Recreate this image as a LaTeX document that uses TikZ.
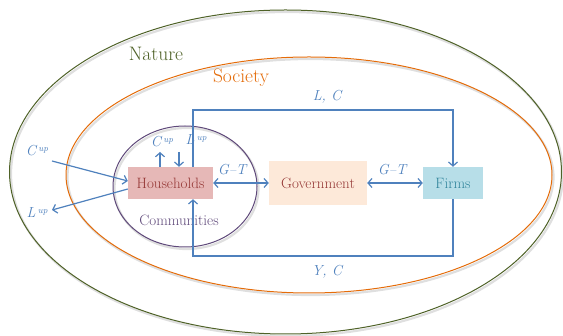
\documentclass[tikz,border=0pt]{standalone}
\usetikzlibrary{arrows.meta,calc}
\definecolor{natgreen}{HTML}{4F6228}
\definecolor{socorange}{HTML}{E46C0A}
\definecolor{compurple}{HTML}{5F497A}
\definecolor{flowblue}{HTML}{4F81BD}
\definecolor{hhfill}{HTML}{E6B8B7}
\definecolor{hhtext}{HTML}{953735}
\definecolor{govfill}{HTML}{FDE9D9}
\definecolor{firmfill}{HTML}{B7DEE8}
\definecolor{firmtext}{HTML}{31859C}
\begin{document}
\begin{tikzpicture}[x=1pt,y=-1pt,
  ring/.style={line width=1pt},
  ringshadow/.style={draw=gray!25,line width=2.2pt},
  box/.style={inner sep=0pt,font=\fontsize{15}{15}\selectfont},
  flow/.style={draw=flowblue,line width=1.2pt},
  tip/.style={-{Straight Barb[length=4pt,width=9pt]}},
  dtip/.style={{Straight Barb[length=4pt,width=9pt]}-{Straight Barb[length=4pt,width=9pt]}},
  lbl/.style={text=flowblue,font=\fontsize{14.5}{14.5}\selectfont\itshape,inner sep=0pt},
  big/.style={font=\fontsize{19.5}{19.5}\selectfont,inner sep=0pt}
]
\useasboundingbox (0,0) rectangle (563,336);
% shadows
\draw[ringshadow] (287,174) ellipse [x radius=276, y radius=162];
\draw[ringshadow] (310.5,177) ellipse [x radius=243, y radius=118];
\draw[ringshadow] (186.5,188.5) ellipse [x radius=72, y radius=60.5];
% rings
\draw[ring,draw=natgreen] (285.5,172) ellipse [x radius=276, y radius=162];
\draw[ring,draw=socorange] (309,175) ellipse [x radius=243, y radius=118];
\draw[ring,draw=compurple] (185,186.5) ellipse [x radius=72, y radius=60.5];

\node[big,text=natgreen] (nature) at (156,54) {Nature};
\node[big,text=socorange] (society) at (241,78) {Society};
\node[box,text=compurple] (comm) at (179,220) {Communities};

% boxes
\node[box,fill=hhfill,text=hhtext,minimum width=85pt,minimum height=32pt] (hh) at (170.5,183) {Households};
\node[box,fill=govfill,text=hhtext,minimum width=98pt,minimum height=44pt] (gov) at (318,183) {Government};
\node[box,fill=firmfill,text=firmtext,minimum width=60pt,minimum height=32pt] (firms) at (453,183) {Firms};

% circular flow
\coordinate (tl) at (193,110);
\coordinate (tr) at (453,110);
\coordinate (br) at (453,256);
\coordinate (bl) at (193,256);
\draw[flow,tip] (hh.north -| tl) -- (tl) -- (tr) -- (firms.north);
\draw[flow,tip] (firms.south) -- (br) -- (bl) -- (hh.south -| bl);
\node[lbl] (lc) at (327,97) {L, C};
\node[lbl] (yc) at (327,272) {Y, C};

% horizontal flows
\draw[flow,dtip] (hh.east) -- (gov.west);
\draw[flow,dtip] (gov.east) -- (firms.west);
\node[lbl] (gt1) at (232,170) {G--T};
\node[lbl] (gt2) at (392,170) {G--T};

% small up/down arrows
\coordinate (cu) at (160,152);
\coordinate (lu) at (179,152);
\draw[flow,tip] (hh.north -| cu) -- (cu);
\draw[flow,tip] (lu) -- (hh.north -| lu);
\node[lbl] (cuplbl) at (162,142) {C\,\raisebox{0.7ex}{\fontsize{9}{9}\selectfont up}};
\node[lbl] (luplbl) at (196,140) {L\,\raisebox{0.7ex}{\fontsize{9}{9}\selectfont up}};

% outer exchange with nature
\coordinate (cin) at (52,161);
\coordinate (lout) at (52,210);
\draw[flow,tip] (cin) -- ($(hh.west)+(0,-2)$);
\draw[flow,tip] ($(hh.west)+(0,6)$) -- (lout);
\node[lbl] (cuplbl2) at (37,151) {C\,\raisebox{0.7ex}{\fontsize{9}{9}\selectfont up}};
\node[lbl] (luplbl2) at (37,213) {L\,\raisebox{0.7ex}{\fontsize{9}{9}\selectfont up}};
\end{tikzpicture}
\end{document}
